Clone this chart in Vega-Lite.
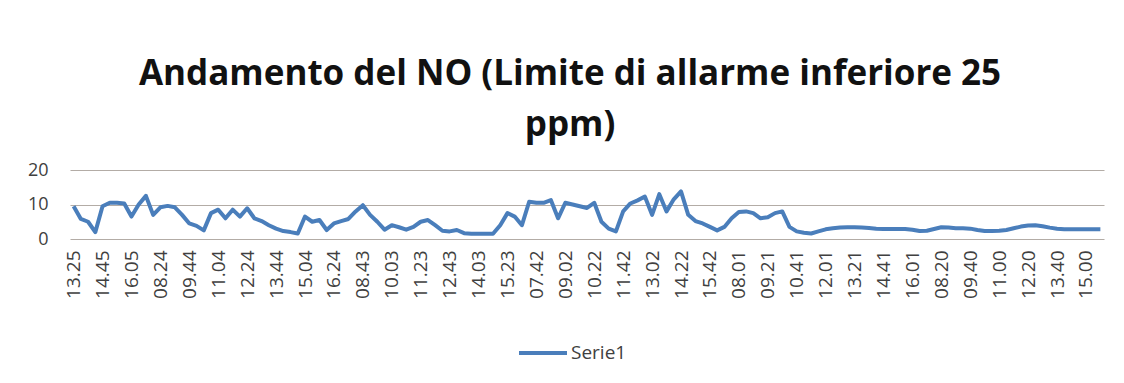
{
  "$schema": "https://vega.github.io/schema/vega-lite/v6.json",
  "width": 1034,
  "height": 69,
  "autosize": {"type": "none"},
  "padding": {"left": 70, "top": 170, "right": 20, "bottom": 144},
  "background": "white",
  "title": {
    "text": ["Andamento del NO (Limite di allarme inferiore  25", "ppm)"],
    "font": "Open Sans",
    "fontSize": 35,
    "fontWeight": "bold",
    "color": "#111111",
    "anchor": "middle",
    "dx": -17,
    "lineHeight": 51,
    "offset": 18
  },
  "config": {"view": {"stroke": null}},
  "data": {
    "values": [
      {"t": "1 13.25", "no": 9.5}, {"t": "1 13.45", "no": 5.8}, {"t": "1 14.05", "no": 5}, {"t": "1 14.25", "no": 2},
      {"t": "1 14.45", "no": 9.5}, {"t": "1 15.05", "no": 10.5}, {"t": "1 15.25", "no": 10.5}, {"t": "1 15.45", "no": 10.3},
      {"t": "1 16.05", "no": 6.5}, {"t": "1 16.25", "no": 10},
      {"t": "2 07.44", "no": 12.5}, {"t": "2 08.04", "no": 7}, {"t": "2 08.24", "no": 9.2}, {"t": "2 08.44", "no": 9.6},
      {"t": "2 09.04", "no": 9.2}, {"t": "2 09.24", "no": 7}, {"t": "2 09.44", "no": 4.5}, {"t": "2 10.04", "no": 3.8},
      {"t": "2 10.24", "no": 2.5}, {"t": "2 10.44", "no": 7.5}, {"t": "2 11.04", "no": 8.5}, {"t": "2 11.24", "no": 6},
      {"t": "2 11.44", "no": 8.5}, {"t": "2 12.04", "no": 6.5}, {"t": "2 12.24", "no": 8.9}, {"t": "2 12.44", "no": 6},
      {"t": "2 13.04", "no": 5.2}, {"t": "2 13.24", "no": 4}, {"t": "2 13.44", "no": 3}, {"t": "2 14.04", "no": 2.3},
      {"t": "2 14.24", "no": 2}, {"t": "2 14.44", "no": 1.6}, {"t": "2 15.04", "no": 6.5}, {"t": "2 15.24", "no": 5},
      {"t": "2 15.44", "no": 5.5}, {"t": "2 16.04", "no": 2.6}, {"t": "2 16.24", "no": 4.5}, {"t": "2 16.44", "no": 5.2},
      {"t": "3 08.03", "no": 5.8}, {"t": "3 08.23", "no": 8}, {"t": "3 08.43", "no": 9.8}, {"t": "3 09.03", "no": 7},
      {"t": "3 09.23", "no": 5}, {"t": "3 09.43", "no": 2.7}, {"t": "3 10.03", "no": 4}, {"t": "3 10.23", "no": 3.4},
      {"t": "3 10.43", "no": 2.7}, {"t": "3 11.03", "no": 3.5}, {"t": "3 11.23", "no": 5}, {"t": "3 11.43", "no": 5.5},
      {"t": "3 12.03", "no": 4}, {"t": "3 12.23", "no": 2.4}, {"t": "3 12.43", "no": 2.2}, {"t": "3 13.03", "no": 2.6},
      {"t": "3 13.23", "no": 1.7}, {"t": "3 13.43", "no": 1.5}, {"t": "3 14.03", "no": 1.5}, {"t": "3 14.23", "no": 1.5},
      {"t": "3 14.43", "no": 1.5}, {"t": "3 15.03", "no": 4}, {"t": "3 15.23", "no": 7.5}, {"t": "3 15.43", "no": 6.5},
      {"t": "3 16.03", "no": 4},
      {"t": "4 07.22", "no": 10.8}, {"t": "4 07.42", "no": 10.5}, {"t": "4 08.02", "no": 10.5}, {"t": "4 08.22", "no": 11.3},
      {"t": "4 08.42", "no": 6}, {"t": "4 09.02", "no": 10.5}, {"t": "4 09.22", "no": 10}, {"t": "4 09.42", "no": 9.5},
      {"t": "4 10.02", "no": 9}, {"t": "4 10.22", "no": 10.5}, {"t": "4 10.42", "no": 5}, {"t": "4 11.02", "no": 3},
      {"t": "4 11.22", "no": 2.2}, {"t": "4 11.42", "no": 8}, {"t": "4 12.02", "no": 10.3}, {"t": "4 12.22", "no": 11.2},
      {"t": "4 12.42", "no": 12.3}, {"t": "4 13.02", "no": 7}, {"t": "4 13.22", "no": 13}, {"t": "4 13.42", "no": 8},
      {"t": "4 14.02", "no": 11.5}, {"t": "4 14.22", "no": 13.8}, {"t": "4 14.42", "no": 7}, {"t": "4 15.02", "no": 5.2},
      {"t": "4 15.22", "no": 4.5}, {"t": "4 15.42", "no": 3.5}, {"t": "4 16.02", "no": 2.5},
      {"t": "5 07.21", "no": 3.5}, {"t": "5 07.41", "no": 6}, {"t": "5 08.01", "no": 7.8}, {"t": "5 08.21", "no": 8},
      {"t": "5 08.41", "no": 7.5}, {"t": "5 09.01", "no": 6}, {"t": "5 09.21", "no": 6.3}, {"t": "5 09.41", "no": 7.5},
      {"t": "5 10.01", "no": 8}, {"t": "5 10.21", "no": 3.5}, {"t": "5 10.41", "no": 2.2}, {"t": "5 11.01", "no": 1.8},
      {"t": "5 11.21", "no": 1.6}, {"t": "5 11.41", "no": 2.2}, {"t": "5 12.01", "no": 2.8}, {"t": "5 12.21", "no": 3.1},
      {"t": "5 12.41", "no": 3.3}, {"t": "5 13.01", "no": 3.4}, {"t": "5 13.21", "no": 3.4}, {"t": "5 13.41", "no": 3.3},
      {"t": "5 14.01", "no": 3.2}, {"t": "5 14.21", "no": 3}, {"t": "5 14.41", "no": 2.9}, {"t": "5 15.01", "no": 2.9},
      {"t": "5 15.21", "no": 2.9}, {"t": "5 15.41", "no": 2.9}, {"t": "5 16.01", "no": 2.7}, {"t": "5 16.21", "no": 2.3},
      {"t": "6 07.40", "no": 2.4}, {"t": "6 08.00", "no": 2.9}, {"t": "6 08.20", "no": 3.4}, {"t": "6 08.40", "no": 3.3},
      {"t": "6 09.00", "no": 3.1}, {"t": "6 09.20", "no": 3.1}, {"t": "6 09.40", "no": 3}, {"t": "6 10.00", "no": 2.6},
      {"t": "6 10.20", "no": 2.3}, {"t": "6 10.40", "no": 2.3}, {"t": "6 11.00", "no": 2.4}, {"t": "6 11.20", "no": 2.6},
      {"t": "6 11.40", "no": 3.1}, {"t": "6 12.00", "no": 3.6}, {"t": "6 12.20", "no": 3.9}, {"t": "6 12.40", "no": 4},
      {"t": "6 13.00", "no": 3.7}, {"t": "6 13.20", "no": 3.3}, {"t": "6 13.40", "no": 3}, {"t": "6 14.00", "no": 2.8},
      {"t": "6 14.20", "no": 2.8}, {"t": "6 14.40", "no": 2.8}, {"t": "6 15.00", "no": 2.8}, {"t": "6 15.20", "no": 2.8},
      {"t": "6 15.40", "no": 2.8}
    ]
  },
  "mark": {"type": "line", "strokeWidth": 4, "strokeJoin": "round"},
  "encoding": {
    "x": {
      "field": "t",
      "type": "ordinal",
      "sort": null,
      "scale": {"type": "point", "padding": 0.5},
      "axis": {
        "title": null,
        "domain": false,
        "ticks": false,
        "labelAngle": -90,
        "labelAlign": "right",
        "labelBaseline": "middle",
        "labelPadding": 11,
        "labelFont": "Open Sans",
        "labelFontSize": 19,
        "labelColor": "#404040",
        "labelOverlap": false,
        "values": ["1 13.25", "1 14.45", "1 16.05", "2 08.24", "2 09.44", "2 11.04", "2 12.24", "2 13.44", "2 15.04", "2 16.24", "3 08.43", "3 10.03", "3 11.23", "3 12.43", "3 14.03", "3 15.23", "4 07.42", "4 09.02", "4 10.22", "4 11.42", "4 13.02", "4 14.22", "4 15.42", "5 08.01", "5 09.21", "5 10.41", "5 12.01", "5 13.21", "5 14.41", "5 16.01", "6 08.20", "6 09.40", "6 11.00", "6 12.20", "6 13.40", "6 15.00"],
        "labelExpr": "split(datum.value, ' ')[1]"
      }
    },
    "y": {
      "field": "no",
      "type": "quantitative",
      "scale": {"domain": [0, 20], "nice": false},
      "axis": {
        "title": null,
        "values": [0, 10, 20],
        "domain": false,
        "ticks": false,
        "grid": true,
        "gridColor": "#b3aca6",
        "gridWidth": 1.2,
        "labelPadding": 22,
        "labelFont": "Open Sans",
        "labelFontSize": 18,
        "labelColor": "#404040"
      }
    },
    "color": {
      "datum": "Serie1",
      "type": "nominal",
      "scale": {"range": ["#4a7ebb"]},
      "legend": {
        "title": null,
        "orient": "none",
        "legendX": 447,
        "legendY": 157,
        "padding": 0,
        "symbolType": "stroke",
        "symbolSize": 2304,
        "symbolStrokeWidth": 4,
        "labelFont": "Open Sans",
        "labelFontSize": 19,
        "labelColor": "#404040",
        "labelOffset": 2
      }
    }
  }
}
